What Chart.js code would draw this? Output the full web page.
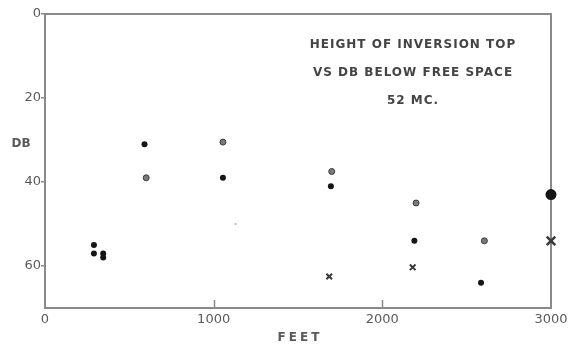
<!DOCTYPE html>
<html>
<head>
<meta charset="utf-8">
<script src="https://cdn.jsdelivr.net/npm/chart.js@4/dist/chart.umd.min.js"></script>
<style>
  html, body { margin: 0; padding: 0; background: #fff; }
  #wrap { width: 576px; height: 353px; }
</style>
</head>
<body>
<div id="wrap"><canvas id="scatterChart"></canvas></div>
<script>
// height of inversion top (feet) vs dB below free space
const solidX = [590, 290, 290, 345, 345, 1055, 1695, 2190, 2585];
const solidY = [31, 55, 57, 57, 58, 39, 41, 54, 64];
const greyX = [600, 1055, 1700, 2200, 2605];
const greyY = [39, 30.5, 37.5, 45, 54];
const crossX = [1685, 2180];
const crossY = [62.5, 60.3];
const endDotX = [3000];
const endDotY = [43];
const endCrossX = [3000];
const endCrossY = [54];
const speckX = [1130];
const speckY = [50];

const xTicks = [0, 1000, 2000, 3000];
const yTicks = [0, 20, 40, 60];
const titleLines = ['HEIGHT OF INVERSION TOP', 'VS DB BELOW FREE SPACE', '52 MC.'];

const toPoints = (xs, ys) => xs.map((x, i) => ({ x: x, y: ys[i] }));

const axisGrey = '#8a8a8a';
const labelGrey = '#5a5a5a';

// draws titles, axis names and the inward x ticks
const decorations = {
    id: 'decorations',
    afterDraw(chart) {
        const ctx = chart.ctx;
        const area = chart.chartArea;
        const xs = chart.scales.x;
        ctx.save();
        ctx.strokeStyle = axisGrey;
        ctx.lineWidth = 1.5;
        [1000, 2000].forEach(v => {
            const px = Math.round(xs.getPixelForValue(v)) + 0.5;
            ctx.beginPath();
            ctx.moveTo(px, area.bottom);
            ctx.lineTo(px, area.bottom - 8);
            ctx.stroke();
        });

        ctx.fillStyle = '#444';
        ctx.font = 'bold 12px "DejaVu Sans"';
        ctx.letterSpacing = '1px';
        ctx.textAlign = 'center';
        ctx.textBaseline = 'middle';
        titleLines.forEach((line, i) => {
            ctx.fillText(line, 413, 45 + i * 28);
        });

        ctx.fillStyle = labelGrey;
        ctx.font = 'bold 12px "DejaVu Sans"';
        ctx.letterSpacing = '0px';
        ctx.fillText('DB', 21, 144);
        ctx.letterSpacing = '3px';
        ctx.fillText('FEET', 300, 338);
        ctx.restore();
    }
};

new Chart(document.getElementById('scatterChart').getContext('2d'), {
    type: 'scatter',
    data: {
        datasets: [
            {
                label: 'solid',
                data: toPoints(solidX, solidY),
                pointStyle: 'circle',
                pointRadius: 3,
                backgroundColor: '#151515',
                borderColor: '#151515',
                borderWidth: 0,
                clip: false
            },
            {
                label: 'grey',
                data: toPoints(greyX, greyY),
                pointStyle: 'circle',
                pointRadius: 3,
                backgroundColor: '#7a7a7a',
                borderColor: '#3a3a3a',
                borderWidth: 1,
                clip: false
            },
            {
                label: 'cross',
                data: toPoints(crossX, crossY),
                pointStyle: 'crossRot',
                pointRadius: 4,
                borderColor: '#3a3a3a',
                borderWidth: 2,
                clip: false
            },
            {
                label: 'end dot',
                data: toPoints(endDotX, endDotY),
                pointStyle: 'circle',
                pointRadius: 5.5,
                backgroundColor: '#151515',
                borderColor: '#151515',
                borderWidth: 0,
                clip: false
            },
            {
                label: 'end cross',
                data: toPoints(endCrossX, endCrossY),
                pointStyle: 'crossRot',
                pointRadius: 6,
                borderColor: '#3a3a3a',
                borderWidth: 2.5,
                clip: false
            },
            {
                label: 'speck',
                data: toPoints(speckX, speckY),
                pointStyle: 'circle',
                pointRadius: 1,
                backgroundColor: '#aaaaaa',
                borderWidth: 0,
                clip: false
            }
        ]
    },
    options: {
        responsive: true,
        maintainAspectRatio: false,
        animation: false,
        layout: { padding: { left: 0, right: 25, top: 14, bottom: 0 } },
        plugins: {
            legend: { display: false },
            tooltip: { enabled: false }
        },
        scales: {
            x: {
                type: 'linear',
                min: 0,
                max: 3000,
                afterBuildTicks: scale => { scale.ticks = xTicks.map(v => ({ value: v })); },
                afterFit: scale => { scale.height = 45; },
                border: { display: true, color: axisGrey, width: 2 },
                grid: { display: false, drawTicks: false },
                ticks: {
                    color: labelGrey,
                    font: { family: '"DejaVu Sans"', size: 13 },
                    padding: 4,
                    maxRotation: 0,
                    callback: v => String(v)
                }
            },
            y: {
                type: 'linear',
                min: 0,
                max: 70,
                reverse: true,
                position: 'left',
                afterBuildTicks: scale => { scale.ticks = yTicks.map(v => ({ value: v })); },
                afterFit: scale => { scale.width = 45; },
                border: { display: true, color: axisGrey, width: 2 },
                grid: { drawOnChartArea: false, drawTicks: true, tickLength: 4, color: axisGrey, lineWidth: 1.5 },
                ticks: {
                    color: labelGrey,
                    font: { family: '"DejaVu Sans"', size: 13 },
                    padding: 0
                }
            }
        }
    },
    plugins: [decorations, {
        id: 'frame',
        beforeDatasetsDraw(chart) {
            // top and right edges of the plot box
            const ctx = chart.ctx;
            const a = chart.chartArea;
            ctx.save();
            ctx.strokeStyle = axisGrey;
            ctx.lineWidth = 2;
            ctx.beginPath();
            ctx.moveTo(a.left, a.top);
            ctx.lineTo(a.right, a.top);
            ctx.lineTo(a.right, a.bottom);
            ctx.stroke();
            ctx.restore();
        }
    }]
});
</script>
</body>
</html>
